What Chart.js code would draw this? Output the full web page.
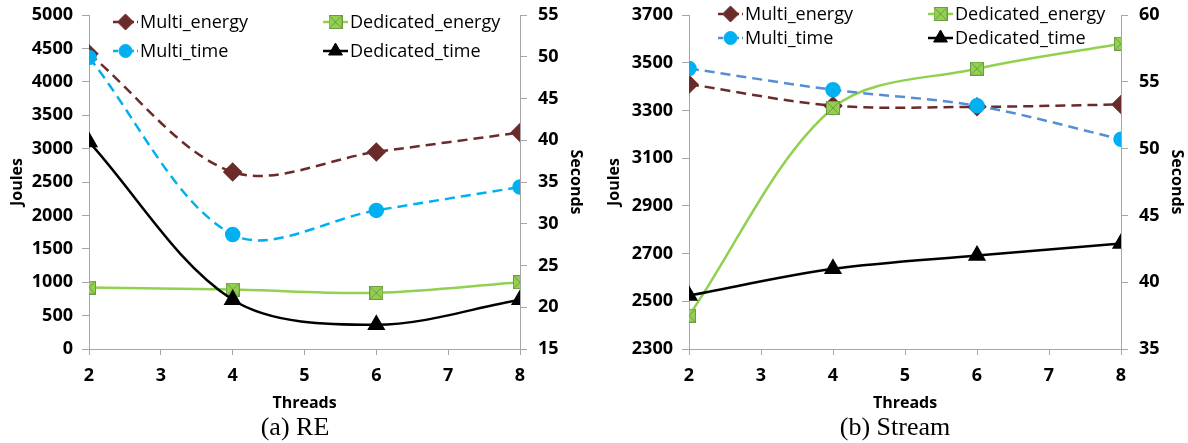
<!DOCTYPE html>
<html>
<head>
<meta charset="utf-8">
<script src="https://cdn.jsdelivr.net/npm/chart.js@4"></script>
<style>
  body { margin: 0; background: #fff; }
  #wrap { position: relative; width: 1188px; height: 443px; overflow: hidden; }
  .box { position: absolute; top: 0; }
  .cap { position: absolute; top: 412px; width: 300px; text-align: center;
         font-family: "Liberation Serif", serif; font-size: 26px; line-height: 30px; color: #000; }
</style>
</head>
<body>
<div id="wrap">
  <div class="box" style="left:0"><canvas id="chartRE" width="594" height="420"></canvas></div>
  <div class="box" style="left:594px"><canvas id="chartStream" width="594" height="420"></canvas></div>
  <div class="cap" style="left:145px">(a) RE</div>
  <div class="cap" style="left:745px">(b) Stream</div>
</div>
<script>
// ---- data ----
const threads = [2, 4, 6, 8];
const seriesNames = ['Multi_energy', 'Dedicated_energy', 'Multi_time', 'Dedicated_time'];

// (a) RE
const reMultiEnergy = [4420, 2650, 2950, 3240];
const reDedicatedEnergy = [920, 890, 840, 1000];
const reMultiTime = [49.9, 28.7, 31.6, 34.4];
const reDedicatedTime = [39.8, 20.9, 17.9, 20.9];

// (b) Stream
const streamMultiEnergy = [3410, 3320, 3315, 3325];
const streamDedicatedEnergy = [2440, 3310, 3475, 3580];
const streamMultiTime = [56.0, 54.4, 53.2, 50.7];
const streamDedicatedTime = [39.0, 41.0, 42.0, 42.9];

// axis ranges: min, max, step
const threadRange = [2, 8, 1];
const reJoules = [0, 5000, 500];
const reSeconds = [15, 55, 5];
const streamJoules = [2300, 3700, 200];
const streamSeconds = [35, 60, 5];

Chart.defaults.font.family = '"Open Sans", sans-serif';
const axisGray = '#a6a6a6';
const tickFont = { size: 18, weight: 'bold' };
const titleFont = { size: 16, weight: 'bold' };
const smooth = 0.33;

// green square with a cross, like the excel marker
function squareX() {
  const c = document.createElement('canvas');
  c.width = 14; c.height = 14;
  const g = c.getContext('2d');
  g.fillStyle = '#92d050';
  g.fillRect(0.5, 0.5, 13, 13);
  g.strokeStyle = '#6f9a45';
  g.lineWidth = 1;
  g.strokeRect(0.5, 0.5, 13, 13);
  g.beginPath();
  g.moveTo(1.5, 1.5); g.lineTo(12.5, 12.5);
  g.moveTo(12.5, 1.5); g.lineTo(1.5, 12.5);
  g.stroke();
  return c;
}
const sqMarker = squareX();

function pts(v) {
  return threads.map((t, i) => ({ x: t, y: v[i] }));
}

function makeDatasets(me, de, mt, dt, multiTimeLine) {
  return [
    { label: seriesNames[0], data: pts(me), yAxisID: 'yJ', borderColor: '#6b2b2b', backgroundColor: '#6b2b2b',
      borderWidth: 2.5, borderDash: [10, 6], pointStyle: 'rectRot', pointRadius: 8, tension: smooth, order: 3 },
    { label: seriesNames[1], data: pts(de), yAxisID: 'yJ', borderColor: '#92d050', backgroundColor: '#92d050',
      borderWidth: 2.5, pointStyle: sqMarker, pointRadius: 7, tension: smooth, order: 2 },
    { label: seriesNames[2], data: pts(mt), yAxisID: 'yS', borderColor: multiTimeLine, backgroundColor: '#00b0f0',
      pointBorderColor: '#00b0f0', borderWidth: 2.5, borderDash: [10, 6], pointStyle: 'circle', pointRadius: 6.5,
      tension: smooth, order: 1 },
    { label: seriesNames[3], data: pts(dt), yAxisID: 'yS', borderColor: '#000', backgroundColor: '#000',
      borderWidth: 2.5, pointStyle: 'triangle', pointRadius: 8, tension: smooth, order: 0 }
  ];
}

// legend in two columns over the plot
function cornerLegend(pos) {
  return {
    id: 'cornerLegend',
    afterDraw(chart) {
      const ctx = chart.ctx, area = chart.chartArea;
      ctx.save();
      chart.data.datasets.forEach((ds, i) => {
        const x = area.left + (i % 2 ? pos.col2 : pos.col1);
        const y = area.top + (i < 2 ? pos.row1 : pos.row2);
        ctx.strokeStyle = ds.borderColor;
        ctx.lineWidth = ds.borderWidth;
        ctx.setLineDash(ds.borderDash ? [5, 3] : []);
        ctx.beginPath();
        ctx.moveTo(x, y);
        ctx.lineTo(x + 25, y);
        ctx.stroke();
        ctx.setLineDash([]);
        ctx.fillStyle = ds.backgroundColor;
        ctx.strokeStyle = ds.pointBorderColor || ds.borderColor;
        ctx.lineWidth = 1;
        Chart.helpers.drawPoint(ctx, { pointStyle: ds.pointStyle, radius: ds.pointRadius, rotation: 0, borderWidth: 1 }, x + 12.5, y);
        ctx.fillStyle = '#000';
        ctx.font = '18px "Open Sans"';
        ctx.textAlign = 'left';
        ctx.textBaseline = 'middle';
        ctx.fillText(ds.label, x + 27, y + 1);
      });
      ctx.restore();
    }
  };
}

function yAxis(side, range, text, width, titlePad) {
  return {
    position: side,
    min: range[0], max: range[1],
    ticks: { stepSize: range[2], padding: side === 'left' ? 9 : 11, color: '#000', font: tickFont,
             callback: v => String(v) },
    grid: { drawOnChartArea: false, drawTicks: true, tickLength: 7, color: axisGray },
    border: { color: axisGray, width: 1 },
    title: { display: true, text: text, color: '#000', font: titleFont, padding: { top: titlePad, bottom: 0 } },
    afterFit: s => { s.width = width; s.paddingTop = 0; s.paddingBottom = 0; }
  };
}

function makeChart(id, datasets, joules, seconds, geo) {
  return new Chart(document.getElementById(id).getContext('2d'), {
    type: 'line',
    data: { datasets },
    options: {
      responsive: false,
      animation: false,
      layout: { padding: { top: 15, left: 0, right: 0, bottom: 0 } },
      plugins: { legend: { display: false }, tooltip: { enabled: false } },
      scales: {
        x: {
          type: 'linear', min: threadRange[0], max: threadRange[1],
          ticks: { stepSize: threadRange[2], padding: 10, color: '#000', font: tickFont },
          grid: { drawOnChartArea: false, drawTicks: true, tickLength: 6, color: axisGray },
          border: { color: axisGray, width: 1 },
          title: { display: true, text: 'Threads', color: '#000', font: titleFont, padding: { top: 0, bottom: 7 } },
          afterFit: s => { s.height = 71; }
        },
        yJ: yAxis('left', joules, 'Joules', geo.leftW, geo.joulesPad),
        yS: yAxis('right', seconds, 'Seconds', geo.rightW, geo.secondsPad)
      }
    },
    plugins: [cornerLegend(geo.legend)]
  });
}

makeChart('chartRE',
  makeDatasets(reMultiEnergy, reDedicatedEnergy, reMultiTime, reDedicatedTime, '#00b0f0'),
  reJoules, reSeconds,
  { leftW: 89, rightW: 74, joulesPad: 8, secondsPad: 9, legend: { col1: 24, col2: 234, row1: 7, row2: 36 } });

makeChart('chartStream',
  makeDatasets(streamMultiEnergy, streamDedicatedEnergy, streamMultiTime, streamDedicatedTime, '#558ed5'),
  streamJoules, streamSeconds,
  { leftW: 95, rightW: 67, joulesPad: 11, secondsPad: 2, legend: { col1: 29, col2: 239, row1: -1, row2: 23 } });
</script>
</body>
</html>
